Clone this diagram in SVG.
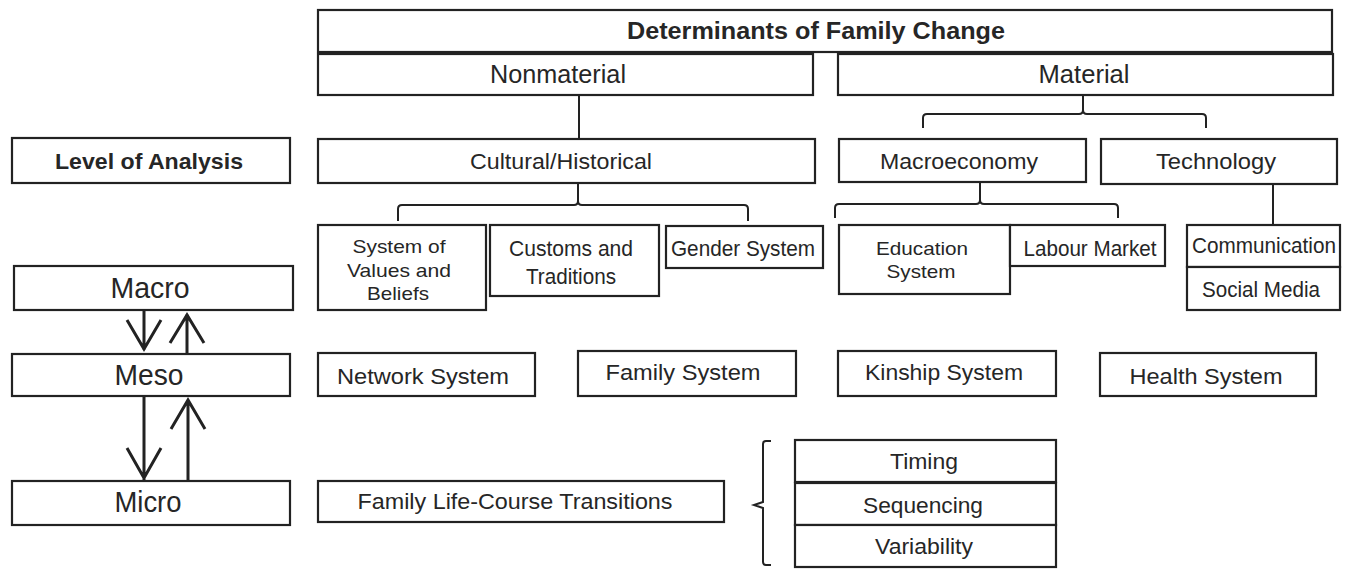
<svg xmlns="http://www.w3.org/2000/svg" width="1355" height="570" viewBox="0 0 1355 570">
<style>
.b{fill:#fff;stroke:#222;stroke-width:2.2}
.t{font-family:"Liberation Sans",Arial,sans-serif;font-size:22px;fill:#262626;text-anchor:middle;dominant-baseline:central}
.sm{font-size:18.5px}
.big{font-size:29px}
.mid{font-size:25px}
.ttl{font-size:23px;font-weight:bold}
.bold{font-weight:bold}
.c{fill:none;stroke:#222;stroke-width:2}
.a{fill:none;stroke:#222;stroke-width:3}
</style>
<rect width="1355" height="570" fill="#fff"/>
<g id="connectors">
<path class="c" d="M579,95 V139"/>
<path class="c" d="M1083,95 V110 Q1083,114 1079,114 H927 Q923,114 923,118 V128 M1083,110 Q1083,114 1087,114 H1202 Q1206,114 1206,118 V128"/>
<path class="c" d="M578,184 V201 Q578,205 574,205 H402 Q398,205 398,209 V221 M578,201 Q578,205 582,205 H744 Q748,205 748,209 V221"/>
<path class="c" d="M980,183 V200 Q980,204 976,204 H839 Q835,204 835,208 V218 M980,200 Q980,204 984,204 H1114 Q1118,204 1118,208 V218"/>
<path class="c" d="M1273,184 V225"/>
<path class="c" d="M771,441 H766 Q763,441 763,444 V502 L754,505 L763,508 V562 Q763,565 766,565 H771"/>
<path class="a" d="M144,310 V350 M127,320 L144,349 L161,320"/>
<path class="a" d="M187,354 V314 M170,343 L187,315 L204,343"/>
<path class="a" d="M144,396 V480 M127,448 L144,478 L161,448"/>
<path class="a" d="M188,481 V400 M171,429 L188,400 L205,429"/>
</g>
<g id="title"><rect class="b" x="318" y="10" width="1014" height="42"/><text class="t ttl" x="816" y="31" textLength="378" lengthAdjust="spacingAndGlyphs">Determinants of Family Change</text></g>
<g id="nonmaterial"><rect class="b" x="318" y="54" width="495" height="41"/><text class="t mid" x="558" y="74" textLength="136" lengthAdjust="spacingAndGlyphs">Nonmaterial</text></g>
<g id="material"><rect class="b" x="838" y="54" width="495" height="41"/><text class="t mid" x="1084" y="74" textLength="91" lengthAdjust="spacingAndGlyphs">Material</text></g>
<g id="level"><rect class="b" x="12" y="138" width="278" height="45"/><text class="t bold" x="149" y="161" textLength="188" lengthAdjust="spacingAndGlyphs">Level of Analysis</text></g>
<g id="cultural"><rect class="b" x="318" y="139" width="497" height="44"/><text class="t" x="561" y="161" textLength="182" lengthAdjust="spacingAndGlyphs">Cultural/Historical</text></g>
<g id="macroeconomy"><rect class="b" x="839" y="139" width="247" height="43"/><text class="t" x="959" y="161" textLength="158" lengthAdjust="spacingAndGlyphs">Macroeconomy</text></g>
<g id="technology"><rect class="b" x="1101" y="139" width="236" height="45"/><text class="t" x="1216" y="161" textLength="120" lengthAdjust="spacingAndGlyphs">Technology</text></g>
<g id="values"><rect class="b" x="318" y="225" width="168" height="85"/><text class="t sm" x="399" y="246" textLength="93" lengthAdjust="spacingAndGlyphs">System of</text><text class="t sm" x="399" y="270" textLength="104" lengthAdjust="spacingAndGlyphs">Values and</text><text class="t sm" x="398" y="293" textLength="62" lengthAdjust="spacingAndGlyphs">Beliefs</text></g>
<g id="customs"><rect class="b" x="490" y="225" width="169" height="71"/><text class="t" x="571" y="248" textLength="124" lengthAdjust="spacingAndGlyphs">Customs and</text><text class="t" x="571" y="276" textLength="90" lengthAdjust="spacingAndGlyphs">Traditions</text></g>
<g id="gender"><rect class="b" x="666" y="226" width="157" height="42"/><text class="t" x="743" y="248" textLength="144" lengthAdjust="spacingAndGlyphs">Gender System</text></g>
<g id="education"><rect class="b" x="839" y="225" width="171" height="69"/><text class="t sm" x="922" y="248" textLength="92" lengthAdjust="spacingAndGlyphs">Education</text><text class="t sm" x="921" y="271" textLength="69" lengthAdjust="spacingAndGlyphs">System</text></g>
<g id="labour"><rect class="b" x="1010" y="225" width="155" height="41"/><text class="t" x="1090" y="248" textLength="133" lengthAdjust="spacingAndGlyphs">Labour Market</text></g>
<g id="communication"><rect class="b" x="1187" y="225" width="153" height="42"/><text class="t" x="1264" y="245" textLength="144" lengthAdjust="spacingAndGlyphs">Communication</text></g>
<g id="social"><rect class="b" x="1187" y="267" width="153" height="43"/><text class="t" x="1261" y="289" textLength="118" lengthAdjust="spacingAndGlyphs">Social Media</text></g>
<g id="macro"><rect class="b" x="14" y="266" width="279" height="44"/><text class="t big" x="150" y="288" textLength="79" lengthAdjust="spacingAndGlyphs">Macro</text></g>
<g id="meso"><rect class="b" x="12" y="354" width="278" height="42"/><text class="t big" x="149" y="375" textLength="69" lengthAdjust="spacingAndGlyphs">Meso</text></g>
<g id="micro"><rect class="b" x="12" y="481" width="278" height="44"/><text class="t big" x="148" y="502" textLength="67" lengthAdjust="spacingAndGlyphs">Micro</text></g>
<g id="network"><rect class="b" x="318" y="353" width="217" height="43"/><text class="t" x="423" y="376" textLength="172" lengthAdjust="spacingAndGlyphs">Network System</text></g>
<g id="family"><rect class="b" x="578" y="351" width="218" height="45"/><text class="t" x="683" y="372" textLength="155" lengthAdjust="spacingAndGlyphs">Family System</text></g>
<g id="kinship"><rect class="b" x="838" y="351" width="218" height="45"/><text class="t" x="944" y="372" textLength="158" lengthAdjust="spacingAndGlyphs">Kinship System</text></g>
<g id="health"><rect class="b" x="1100" y="353" width="216" height="43"/><text class="t" x="1206" y="376" textLength="153" lengthAdjust="spacingAndGlyphs">Health System</text></g>
<g id="lifecourse"><rect class="b" x="318" y="481" width="406" height="41"/><text class="t" x="515" y="501" textLength="315" lengthAdjust="spacingAndGlyphs">Family Life-Course Transitions</text></g>
<g id="timing"><rect class="b" x="795" y="440" width="261" height="42"/><text class="t" x="924" y="461" textLength="68" lengthAdjust="spacingAndGlyphs">Timing</text></g>
<g id="sequencing"><rect class="b" x="795" y="483" width="261" height="42"/><text class="t" x="923" y="505" textLength="120" lengthAdjust="spacingAndGlyphs">Sequencing</text></g>
<g id="variability"><rect class="b" x="795" y="525" width="261" height="42"/><text class="t" x="924" y="546" textLength="98" lengthAdjust="spacingAndGlyphs">Variability</text></g>
</svg>
